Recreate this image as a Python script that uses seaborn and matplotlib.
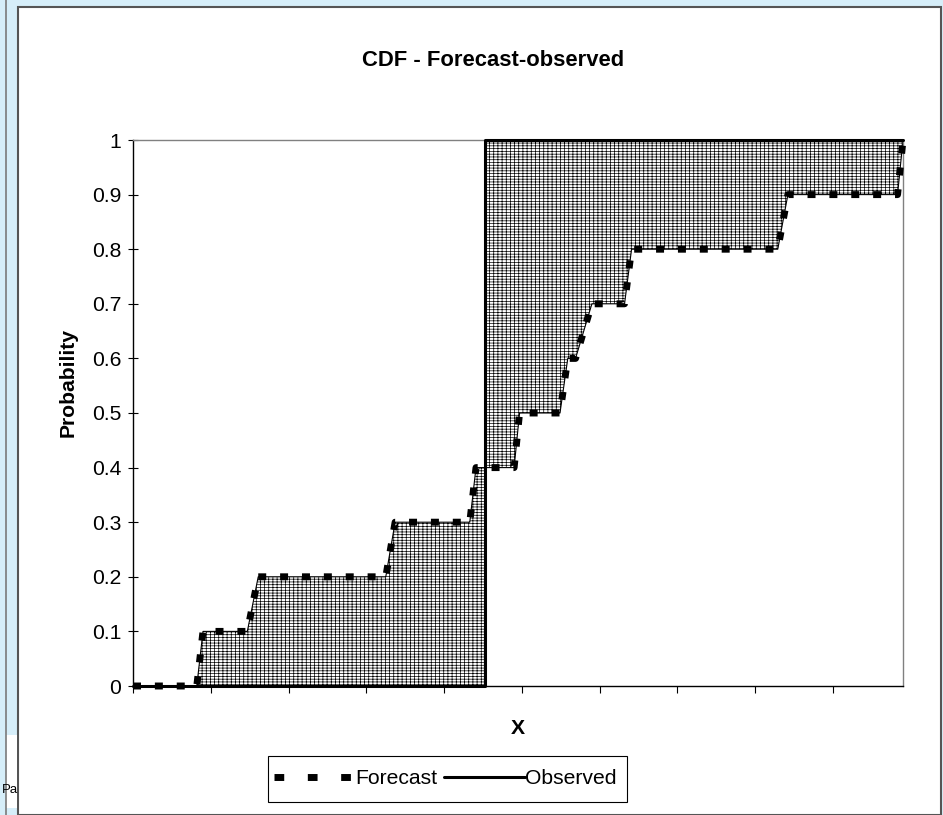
import numpy as np
import pandas as pd
import matplotlib
matplotlib.use("Agg")
import matplotlib.pyplot as plt
import seaborn as sns
from matplotlib.patches import Rectangle
from matplotlib.lines import Line2D

# ---- data ----
forecast_x = [0.0, 0.82, 0.90, 1.47, 1.61, 3.25, 3.37, 4.33, 4.41, 4.90, 4.97,
              5.49, 5.59, 5.69, 5.90, 6.32, 6.41, 8.29, 8.42, 9.83, 9.90]
forecast_y = [0.0, 0.0, 0.1, 0.1, 0.2, 0.2, 0.3, 0.3, 0.4, 0.4, 0.5,
              0.5, 0.6, 0.6, 0.7, 0.7, 0.8, 0.8, 0.9, 0.9, 1.0]
observed_x = [0.0, 4.52, 4.52, 9.90]
observed_y = [0.0, 0.0, 1.0, 1.0]
y_ticks = [0, 0.1, 0.2, 0.3, 0.4, 0.5, 0.6, 0.7, 0.8, 0.9, 1]
y_tick_labels = ["0", "0.1", "0.2", "0.3", "0.4", "0.5", "0.6", "0.7", "0.8", "0.9", "1"]
x_ticks = [0, 1, 2, 3, 4, 5, 6, 7, 8, 9]

sns.set_theme(style="white")
plt.rcParams["font.family"] = ["Liberation Sans", "DejaVu Sans"]
plt.rcParams["hatch.linewidth"] = 0.5
plt.rcParams["text.color"] = "black"
plt.rcParams["xtick.color"] = "black"
plt.rcParams["ytick.color"] = "black"

FS = 15.2

W, H = 943, 815
fig = plt.figure(figsize=(W / 100, H / 100), dpi=100)
fig.patch.set_facecolor("#d6eef9")

def fx(px):
    return px / W

def fy(py):
    return 1 - py / H

# window frame
fig.add_artist(Rectangle((fx(18), fy(815)), fx(941) - fx(18), fy(7) - fy(815),
                         transform=fig.transFigure, facecolor="white",
                         edgecolor="#555555", lw=1.5, zorder=-2))
strip = Rectangle((fx(6), fy(808)), fx(17) - fx(6), fy(735) - fy(808),
                  transform=fig.transFigure, facecolor="white", edgecolor="none", zorder=-1)
fig.add_artist(strip)
fig.add_artist(Line2D([fx(5.5), fx(5.5)], [0, 1], transform=fig.transFigure,
                      color="#7a7a7a", lw=1.2, zorder=-1))
fig.text(fx(1.5), fy(790), "Pa", fontsize=9.5, ha="left", va="center", color="black")

ax = fig.add_axes([fx(133), fy(686), fx(903) - fx(133), fy(140) - fy(686)])
ax.set_facecolor("white")

df_f = pd.DataFrame({"x": forecast_x, "y": forecast_y})
df_o = pd.DataFrame({"x": observed_x, "y": observed_y})

# hatched area between the two CDFs
grid = np.unique(np.concatenate([np.linspace(0, 9.9, 3000), forecast_x]))
f_vals = np.interp(grid, forecast_x, forecast_y)
o_vals = np.where(grid < observed_x[1], observed_y[0], observed_y[-1])
ax.fill_between(grid, f_vals, o_vals, facecolor="white", edgecolor="black",
                hatch="||||------", linewidth=0.8, zorder=1)

sns.lineplot(data=df_o, x="x", y="y", ax=ax, sort=False, estimator=None,
             color="black", linewidth=2.2, zorder=3, clip_on=False)
sns.lineplot(data=df_f, x="x", y="y", ax=ax, sort=False, estimator=None,
             color="black", linewidth=5.0, linestyle=(0, (1.15, 2.0)),
             dash_capstyle="butt", zorder=4, clip_on=False)

ax.set_xlim(0, 9.9)
ax.set_ylim(0, 1)
ax.set_xticks(x_ticks)
ax.set_xticklabels([])
ax.set_yticks(y_ticks)
ax.set_yticklabels(y_tick_labels)
ax.set_xlabel("")
ax.set_ylabel("")
ax.tick_params(axis="y", direction="inout", length=7, width=0.8, color="black",
               labelsize=FS, pad=5, left=True)
ax.tick_params(axis="x", direction="out", length=5, width=0.8, color="black",
               bottom=True)
for s in ["left", "bottom"]:
    ax.spines[s].set_color("black")
    ax.spines[s].set_linewidth(1.0)
for s in ["top", "right"]:
    ax.spines[s].set_color("#808080")
    ax.spines[s].set_linewidth(1.0)

fig.text(fx(493), fy(60), "CDF - Forecast-observed", fontsize=15.8, fontweight="bold",
         ha="center", va="center")
fig.text(fx(518), fy(728), "X", fontsize=FS, fontweight="bold", ha="center", va="center")
fig.text(fx(68), fy(383), "Probability", fontsize=FS, fontweight="bold",
         ha="center", va="center", rotation=90)

# legend: frame drawn separately, contents placed inside it
fig.add_artist(Rectangle((fx(268), fy(802)), fx(627) - fx(268), fy(756) - fy(802),
                         transform=fig.transFigure, facecolor="white",
                         edgecolor="black", lw=0.8, zorder=2))
h_f = Line2D([], [], color="black", linewidth=5.0, linestyle=(0, (1.4, 3.4)),
             dash_capstyle="butt")
h_o = Line2D([], [], color="black", linewidth=2.2)
leg = fig.legend([h_f, h_o], ["Forecast", "Observed"], loc="center left",
                 bbox_to_anchor=(fx(274), fy(779)), ncol=2, fontsize=FS,
                 frameon=False, borderpad=0.0, borderaxespad=0.0,
                 handlelength=3.84, handletextpad=0.0, columnspacing=0.33)
leg.set_zorder(3)

fig.savefig("out.png", dpi=100, facecolor=fig.get_facecolor())
